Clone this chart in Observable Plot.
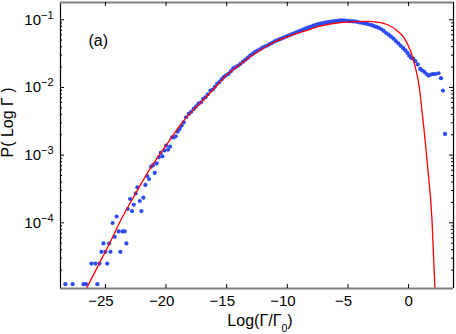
<!DOCTYPE html>
<html><head><meta charset="utf-8">
<script src="https://cdn.jsdelivr.net/npm/d3@7"></script>
<script src="https://cdn.jsdelivr.net/npm/@observablehq/plot@0.6"></script>
<style>body{margin:0;background:#fff}</style>
</head><body><div id="chart"></div>
<script>
// Blue dots: x = Log(Γ/Γ0), p = P(Log Γ)
const dotX = [
 -28.3,-27.7,-26.8,-26.6,-25.66,-26.15,-25.82,-25.49,-24.85,-25.33,-25.0,-24.58,-23.76,-25.16,-24.69,-23.27,
 -24.23,-23.9,-23.57,-23.41,-24.4,-24.07,-23.16,-22.8,-22.03,-22.96,-22.66,-22.5,-22.36,-22.17,-21.87,-21.7,
 -21.54,-21.4,-21.23,-21.07,-20.93,-20.77,-20.6,-20.44,-20.3,-20.13,-19.99,-19.83,-19.67,-19.5,-19.34,-19.2,
 -19.04,-18.88,-18.71,-18.54,
 -18.35,-18.13,-17.93,-17.72,-17.52,-17.32,-17.12,-16.94,-16.76,-16.55,-16.34,-16.15,-15.97,-15.79,-15.6,-15.42,
 -15.25,-15.05,-14.84,-14.65,-14.46,-14.28,-14.08,-13.87,-13.65,-13.45,-13.25,-13.05,-12.85,-12.65,-12.45,-12.25,
 -12.05,-11.85,-11.65,-11.45,-11.25,-11.05,-10.85,-10.65,-10.45,-10.25,-10.05,-9.85,-9.65,-9.45,-9.25,-9.05,
 -8.85,-8.65,-8.45,-8.25,-8.05,-7.85,-7.65,-7.45,-7.25,-7.05,-6.85,-6.65,-6.45,-6.25,-6.05,-5.85,
 -5.65,-5.45,-5.25,-5.05,-4.85,-4.65,-4.45,-4.25,-4.05,-3.85,-3.65,-3.45,-3.25,-3.05,-2.85,-2.65,
 -2.45,-2.25,-2.05,-1.85,-1.65,-1.45,-1.25,-1.05,-0.85,-0.65,-0.45,-0.27,-0.1,0.05,0.2,0.38,
 0.55,0.75,0.96,1.12,1.29,1.47,1.65,1.83,2.01,2.2,2.47,2.67,2.83,3.0
];
const dotP = [
 1.24e-5,1.24e-5,1.24e-5,1.24e-5,1.24e-5,2.5e-5,2.5e-5,2.5e-5,2.5e-5,3.73e-5,3.73e-5,3.73e-5,3.73e-5,4.96e-5,4.96e-5,4.96e-5,
 6.2e-5,7.46e-5,7.46e-5,7.46e-5,9.93e-5,1.24e-4,1.6e-4,1.49e-4,1.49e-4,2.25e-4,1.85e-4,2.72e-4,3.34e-4,2.1e-4,2.35e-4,3.63e-4,
 4.92e-4,4.44e-4,6.76e-4,7.1e-4,5.45e-4,7.57e-4,9.27e-4,1.08e-3,9.6e-4,1.17e-3,1.38e-3,1.2e-3,1.34e-3,1.83e-3,1.83e-3,1.9e-3,
 2.23e-3,2.44e-3,2.73e-3,3.05e-3,
 3.63e-3,4.07e-3,4.37e-3,4.82e-3,5.25e-3,5.75e-3,6.03e-3,6.76e-3,7.16e-3,7.94e-3,9.0e-3,9.33e-3,1.02e-2,1.13e-2,1.2e-2,1.32e-2,
 1.42e-2,1.51e-2,1.59e-2,1.74e-2,1.91e-2,1.99e-2,2.09e-2,2.23e-2,2.4e-2,2.57e-2,2.75e-2,2.99e-2,3.16e-2,3.35e-2,3.51e-2,3.67e-2,
 3.89e-2,4.03e-2,4.17e-2,4.37e-2,4.57e-2,4.79e-2,4.95e-2,5.13e-2,5.31e-2,5.5e-2,5.69e-2,5.89e-2,6.1e-2,6.31e-2,6.53e-2,6.76e-2,
 7.0e-2,7.24e-2,7.5e-2,7.76e-2,7.94e-2,8.22e-2,8.41e-2,8.61e-2,8.81e-2,8.91e-2,9.12e-2,9.23e-2,9.33e-2,9.44e-2,9.55e-2,9.66e-2,
 9.77e-2,9.77e-2,9.73e-2,9.66e-2,9.55e-2,9.5e-2,9.44e-2,9.33e-2,9.12e-2,9.02e-2,8.87e-2,8.71e-2,8.51e-2,8.32e-2,8.07e-2,7.85e-2,
 7.59e-2,7.24e-2,6.84e-2,6.38e-2,6.03e-2,5.62e-2,5.25e-2,4.84e-2,4.47e-2,4.12e-2,3.8e-2,3.52e-2,3.24e-2,2.95e-2,2.75e-2,2.66e-2,
 2.45e-2,2.19e-2,1.88e-2,1.78e-2,1.7e-2,1.58e-2,1.5e-2,1.55e-2,1.58e-2,1.58e-2,1.62e-2,1.37e-2,8.99e-3,2.06e-3
];
// Red fitted curve
const fitX = [-26.9,-26.56,-25.5,-24.5,-23.76,-22.85,-21.15,-19.91,-18.54,-17.72,-16.76,-15.79,-15.25,-13.87,-12.5,-11.13,
 -9.75,-8.52,-7.55,-6.18,-4.8,-3.43,-2.6,-1.78,-0.96,-0.41,0.14,0.55,0.88,1.1,1.52,1.93,2.2];
const fitP = [8.1e-6,1.07e-5,2.51e-5,5.62e-5,1.07e-4,2.12e-4,7.0e-4,1.47e-3,3.24e-3,4.68e-3,7.0e-3,1.08e-2,1.38e-2,2.21e-2,3.31e-2,4.62e-2,
 5.82e-2,6.84e-2,7.85e-2,8.81e-2,9.33e-2,9.44e-2,9.23e-2,8.51e-2,6.95e-2,5.53e-2,3.52e-2,2.0e-2,1.0e-2,4.57e-3,8.32e-4,1.07e-4,7.94e-6];

const xTicks = [-25,-20,-15,-10,-5,0];
const yTicks = [1e-1,1e-2,1e-3,1e-4];
const yTickExp = ["−1","−2","−3","−4"];
const xDomain = [-28.7, 3.7];
const yDomain = [1.07e-5, 0.18];
const panelLabel = "(a)";
const xLabelMain = "Log(Γ/Γ";
const xLabelSub = "0";
const yLabel = "P( Log Γ )";

const W = 456, H = 334, mL = 60, mR = 3, mT = 2, mB = 46;
const pw = W - mL - mR, ph = H - mT - mB;

const dots = dotX.map((x, i) => ({x, p: dotP[i]}));
const fit = fitX.map((x, i) => ({x, p: fitP[i]}));
const yMinor = [];
for (let k = -5; k <= -1; k++) for (let m = 2; m <= 9; m++) {
  const v = m * Math.pow(10, k);
  if (v > yDomain[0] && v < yDomain[1]) yMinor.push(v);
}
const fmtX = d => d < 0 ? "−" + Math.abs(d) : String(d);

const plot = Plot.plot({
  width: W, height: H,
  marginLeft: mL, marginRight: mR, marginTop: mT, marginBottom: mB,
  style: {fontFamily: "'Liberation Sans', Arial, Helvetica, sans-serif", background: "#fff", color: "#000"},
  x: {domain: xDomain, axis: null},
  y: {type: "log", domain: yDomain, axis: null},
  marks: [
    Plot.dot(dots, {x: "x", y: "p", r: 2.1, fill: "#2b4bf5", stroke: null}),
    Plot.line(fit, {x: "x", y: "p", stroke: "#ff0000", strokeWidth: 1.3, curve: "monotone-x", clip: true}),
    // frame
    Plot.ruleX([xDomain[0], xDomain[1]], {stroke: "#000", strokeWidth: 1.2}),
    Plot.ruleY([yDomain[0], yDomain[1]], {stroke: "#808080", strokeWidth: 2.2}),
    // inward ticks
    Plot.tickX(xTicks, {x: d => d, insetTop: ph - 4, stroke: "#000"}),
    Plot.tickX(xTicks, {x: d => d, insetBottom: ph - 4, stroke: "#000"}),
    Plot.tickY(yTicks, {y: d => d, insetRight: pw - 4, stroke: "#000"}),
    Plot.tickY(yTicks, {y: d => d, insetLeft: pw - 4, stroke: "#000"}),
    Plot.tickY(yMinor, {y: d => d, insetRight: pw - 2, stroke: "#000"}),
    Plot.tickY(yMinor, {y: d => d, insetLeft: pw - 2, stroke: "#000"}),
    // x tick labels (digits centred on tick, minus hanging left)
    Plot.text(xTicks.filter(d => d < 0), {x: d => d, text: fmtX, frameAnchor: "bottom", lineAnchor: "top", dy: 7, dx: -4.4, fontSize: 15, fill: "#000"}),
    Plot.text(xTicks.filter(d => d >= 0), {x: d => d, text: fmtX, frameAnchor: "bottom", lineAnchor: "top", dy: 7, fontSize: 15, fill: "#000"}),
    // y tick labels 10^k
    Plot.text(yTicks, {y: d => d, text: () => "10", frameAnchor: "left", textAnchor: "end", dx: -19.5, fontSize: 15, fill: "#000"}),
    Plot.text(yTicks, {y: d => d, text: (d, i) => yTickExp[i], frameAnchor: "left", textAnchor: "start", dx: -19.5, dy: -4.5, fontSize: 11, fill: "#000"}),
    // panel label
    Plot.text([panelLabel], {text: d => d, frameAnchor: "top-left", textAnchor: "start", lineAnchor: "middle", dx: 28, dy: 38, fontSize: 16, fill: "#000"}),
    // y label
    Plot.text([yLabel], {text: d => d, frameAnchor: "left", rotate: -90, dx: -52.5, dy: 12, fontSize: 16, fill: "#000"})
  ]
});

const svg = d3.select(plot);
const t = svg.append("text")
  .attr("x", 260).attr("y", 325.7)
  .attr("text-anchor", "middle").attr("font-size", 16).attr("fill", "#000");
t.append("tspan").text(xLabelMain);
t.append("tspan").attr("font-size", 10.5).attr("dy", 6).text(xLabelSub);
t.append("tspan").attr("dy", -6).text(")");

document.getElementById("chart").appendChild(plot);
</script>
</body></html>
